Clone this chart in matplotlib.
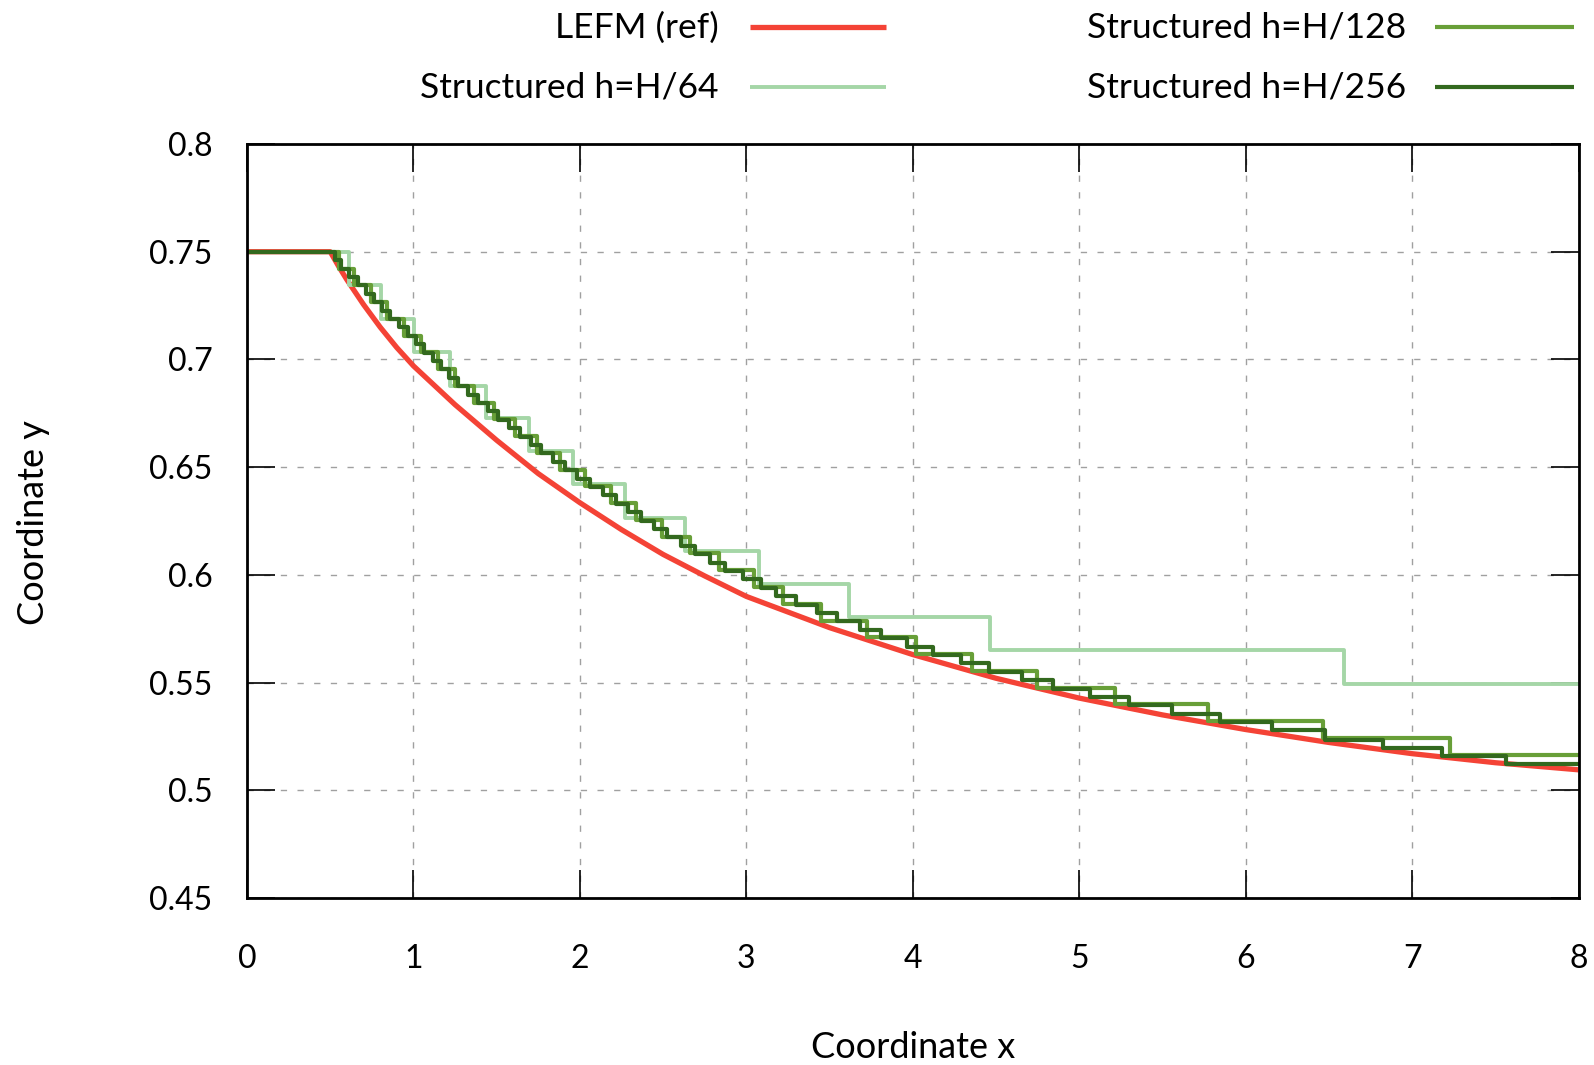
import matplotlib
matplotlib.use("Agg")
import matplotlib.pyplot as plt
from matplotlib.lines import Line2D

plt.rcParams['font.family'] = ['Lato', 'DejaVu Sans']

# ---------------- data ----------------
lefm_x = [0.0, 0.5, 0.55, 0.6, 0.7, 0.8, 0.9, 1.0, 1.25, 1.5, 1.75, 2.0, 2.25,
          2.5, 2.75, 3.0, 3.5, 4.0, 4.5, 5.0, 5.5, 6.0, 6.5, 7.0, 7.5, 8.0]
lefm_y = [0.75, 0.75, 0.7433, 0.737, 0.7255, 0.715, 0.7055, 0.697, 0.679,
          0.6625, 0.647, 0.6335, 0.621, 0.6095, 0.5995, 0.590, 0.5755, 0.563,
          0.552, 0.5428, 0.535, 0.5282, 0.5222, 0.517, 0.5128, 0.5095]

# H/64: x where each step drop occurs, and the levels
h64_drop_x = [0.61, 0.805, 1.005, 1.22, 1.435, 1.695, 1.96, 2.27, 2.63,
              3.075, 3.615, 4.463, 6.59]
h64_levels = [0.75, 0.7345, 0.7187, 0.7035, 0.6877, 0.6726, 0.6575, 0.6424,
              0.6266, 0.6111, 0.5958, 0.5806, 0.5650, 0.5494]

h128_drop_x = [0.55, 0.645, 0.745, 0.84, 0.945, 1.045, 1.145, 1.25, 1.365,
               1.485, 1.61, 1.745, 1.88, 2.03, 2.185, 2.34, 2.495, 2.66, 2.835,
               3.045, 3.221, 3.45, 3.727, 4.017, 4.358, 4.745, 5.214, 5.775,
               6.463, 7.228]
h128_levels = [0.75, 0.7422, 0.7344, 0.7267, 0.7189, 0.7111, 0.7033, 0.6955,
               0.6878, 0.68, 0.6722, 0.6644, 0.6566, 0.6489, 0.6411, 0.6333,
               0.6255, 0.6177, 0.61, 0.6022, 0.5944, 0.5866, 0.5788, 0.5711,
               0.5633, 0.5555, 0.5477, 0.5399, 0.5322, 0.5244, 0.5166]

h256_drop_x = [0.53, 0.565, 0.615, 0.665, 0.715, 0.764, 0.809, 0.858, 0.915,
               0.965, 1.015, 1.065, 1.115, 1.165, 1.215, 1.27, 1.329, 1.388,
               1.446, 1.509, 1.573, 1.64, 1.707, 1.769, 1.836, 1.908, 1.985,
               2.062, 2.138, 2.215, 2.292, 2.369, 2.446, 2.525, 2.608, 2.692,
               2.782, 2.873, 2.978, 3.089, 3.181, 3.297, 3.426, 3.547, 3.682,
               3.807, 3.963, 4.123, 4.288, 4.461, 4.654, 4.844, 5.064, 5.298,
               5.56, 5.845, 6.156, 6.477, 6.823, 7.178, 7.564]
h256_levels = [0.75, 0.7461, 0.7422, 0.7383, 0.7344, 0.7305, 0.7266, 0.7227,
               0.7188, 0.7149, 0.7110, 0.7071, 0.7032, 0.6993, 0.6954, 0.6915,
               0.6876, 0.6837, 0.6798, 0.6759, 0.6720, 0.6681, 0.6642, 0.6603,
               0.6564, 0.6525, 0.6486, 0.6447, 0.6408, 0.6369, 0.6330, 0.6291,
               0.6252, 0.6213, 0.6174, 0.6135, 0.6096, 0.6057, 0.6018, 0.5979,
               0.5940, 0.5901, 0.5862, 0.5823, 0.5784, 0.5745, 0.5706, 0.5667,
               0.5628, 0.5589, 0.5548, 0.5510, 0.5471, 0.5432, 0.5394, 0.5355,
               0.5316, 0.5278, 0.5234, 0.5194, 0.5157, 0.5120]

x_start, x_end = 0.0, 8.0
x_ticks = [0, 1, 2, 3, 4, 5, 6, 7, 8]
y_ticks = [0.45, 0.5, 0.55, 0.6, 0.65, 0.7, 0.75, 0.8]
y_tick_labels = ["0.45", "0.5", "0.55", "0.6", "0.65", "0.7", "0.75", "0.8"]

labels = ["LEFM (ref)", "Structured h=H/64", "Structured h=H/128", "Structured h=H/256"]
colors = ["#F44336", "#A5D6A7", "#689F38", "#33691E"]
widths = [3.8, 2.8, 3.0, 3.0]

# ---------------- figure ----------------
W, H = 1594, 1065
fig = plt.figure(figsize=(W / 100, H / 100), dpi=100)
ax = fig.add_axes([247 / W, 1 - 898 / H, (1578.5 - 247) / W, (898 - 144) / H])

ax.plot(lefm_x, lefm_y, color=colors[0], lw=widths[0], solid_capstyle='butt',
        solid_joinstyle='round', zorder=3)

def step_series(drops, levels):
    xs = [x_start] + list(drops) + [x_end]
    ys = list(levels) + [levels[-1]]
    return xs, ys

for i, (d, lv) in enumerate([(h64_drop_x, h64_levels), (h128_drop_x, h128_levels),
                             (h256_drop_x, h256_levels)]):
    xs, ys = step_series(d, lv)
    ax.plot(xs, ys, drawstyle='steps-post', color=colors[i + 1], lw=widths[i + 1],
            solid_joinstyle='round', solid_capstyle='butt', zorder=4 + i)

ax.set_xlim(0, 8)
ax.set_ylim(0.45, 0.8)
ax.set_xticks(x_ticks)
ax.set_xticklabels([str(t) for t in x_ticks])
ax.set_yticks(y_ticks)
ax.set_yticklabels(y_tick_labels)

ax.grid(True, color='#a0a0a0', lw=1.0, linestyle=(0, (4.5, 7.5)), zorder=1)
ax.set_axisbelow(True)
ax.tick_params(direction='in', length=20, width=1.2, top=True, right=True,
               labelsize=23, colors='black')
ax.tick_params(axis='x', pad=33)
ax.tick_params(axis='y', pad=25)
for s in ax.spines.values():
    s.set_linewidth(2.0)
    s.set_zorder(10)

fig.text(913 / W, 1 - 1047 / H, "Coordinate x", ha='center', va='center', fontsize=26)
fig.text(33.5 / W, 1 - 523 / H, "Coordinate y", ha='center', va='center',
         rotation=90, fontsize=26)

# legend (gnuplot-style: text right-aligned, sample to the right)
leg = [(0, 719, 750, 886, 26.5), (1, 719, 750, 886, 86.5),
       (2, 1406, 1435, 1574, 26.5), (3, 1406, 1435, 1574, 86.5)]
for idx, tx, l0, l1, yy in leg:
    fig.text(tx / W, 1 - (yy + 1) / H, labels[idx], ha='right', va='center', fontsize=25.5)
    fig.add_artist(Line2D([l0 / W, l1 / W], [1 - yy / H, 1 - yy / H],
                          color=colors[idx], lw=widths[idx], solid_capstyle='butt',
                          transform=fig.transFigure))

fig.savefig("out.png", dpi=100)
